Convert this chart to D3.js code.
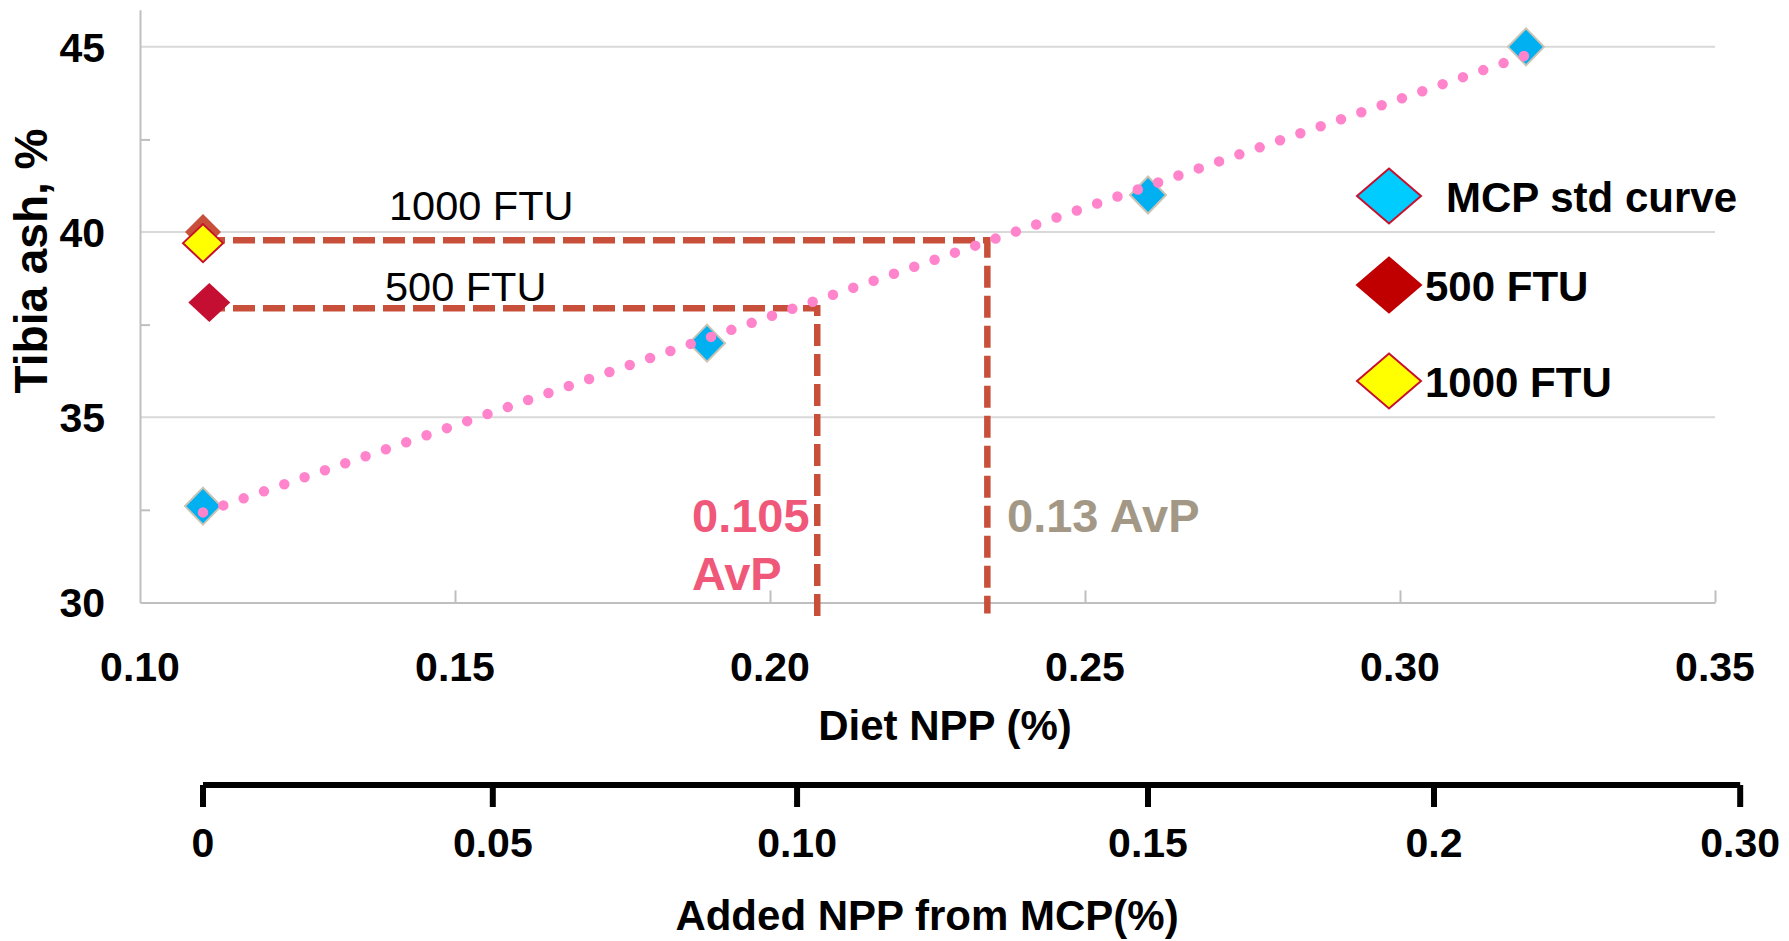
<!DOCTYPE html>
<html>
<head>
<meta charset="utf-8">
<script src="https://cdn.jsdelivr.net/npm/d3@7/dist/d3.min.js"></script>
<style>
  html, body { margin: 0; padding: 0; background: #ffffff; }
  svg { display: block; }
  text { font-family: "Liberation Sans", Arial, sans-serif; }
</style>
</head>
<body>
<svg id="chart" width="1789" height="941"></svg>
<script>
// ---------------- DATA ----------------
const mcpX = [0.11, 0.19, 0.26, 0.32];
const mcpY = [32.6, 37.0, 41.0, 45.0];

const ftu500X = [0.111];
const ftu500Y = [38.1];

const ftu1000X = [0.11];
const ftu1000Y = [39.7];

const hiddenX = [0.11];
const hiddenY = [40.0];

// linear trend line of the MCP standard curve (endpoints)
const trendX = [0.11, 0.32];
const trendY = [32.43, 44.77];

// read-off lines: level, diet NPP where it meets the curve, bottom of the drop line
const refLevel = [39.78, 37.94];
const refDiet = [0.2345, 0.2075];
const refBottom = [29.7, 29.55];

const xTicks = [0.10, 0.15, 0.20, 0.25, 0.30, 0.35];
const xTickLabels = ["0.10", "0.15", "0.20", "0.25", "0.30", "0.35"];
const yTicks = [30, 35, 40, 45];
const yMinorTicks = [32.5, 37.5, 42.5];

// secondary axis: added NPP from MCP and the diet NPP each tick sits at
const addedTicks = [0, 0.05, 0.10, 0.15, 0.2, 0.30];
const addedTickLabels = ["0", "0.05", "0.10", "0.15", "0.2", "0.30"];
const addedDietEquiv = [0.110, 0.156, 0.2043, 0.260, 0.3054, 0.354];

const legendNames = ["MCP std curve", "500 FTU", "1000 FTU"];
const annotations = [
  { lines: ["0.105", "AvP"], x: 0.2, y: 32.3, color: "#F0587A" },
  { lines: ["0.13 AvP"], x: 0.2325, y: 32.3, color: "#A39886" }
];

// ---------------- LAYOUT ----------------
const svg = d3.select("#chart");
const x = d3.scaleLinear().domain([0.10, 0.35]).range([140, 1715]);
const y = d3.scaleLinear().domain([30, 46]).range([602.4, 9.8]);
const xAdded = d3.scaleLinear().domain(addedTicks).range(addedDietEquiv.map(v => x(v)));
const axisY2 = 785;

const diamond = (hw, hh) => `M0,${-hh}L${hw},0L0,${hh}L${-hw},0Z`;

// gridlines
svg.append("g").selectAll("line").data(yTicks.slice(1)).join("line")
  .attr("x1", x(0.10)).attr("x2", x(0.35))
  .attr("y1", d => y(d)).attr("y2", d => y(d))
  .attr("stroke", "#D9D9D9").attr("stroke-width", 2);

// primary x axis
const xAxis = d3.axisBottom(x).tickValues(xTicks.slice(1)).tickSizeInner(-12).tickSizeOuter(0).tickFormat("");
const gx = svg.append("g").attr("transform", `translate(0,${y(30)})`).call(xAxis);
gx.select(".domain").attr("stroke", "#BFBFBF").attr("stroke-width", 2);
gx.selectAll(".tick line").attr("stroke", "#BFBFBF").attr("stroke-width", 2);

svg.append("g").selectAll("text").data(xTicks).join("text")
  .attr("x", d => x(d)).attr("y", 681)
  .attr("text-anchor", "middle")
  .attr("font-size", 41).attr("font-weight", "bold").attr("fill", "#000")
  .text((d, i) => xTickLabels[i]);

// primary y axis
const yAxis = d3.axisLeft(y).tickValues(yMinorTicks).tickSizeInner(-10).tickSizeOuter(0).tickFormat("");
const gy = svg.append("g").attr("transform", `translate(${x(0.10)},0)`).call(yAxis);
gy.select(".domain").attr("stroke", "#BFBFBF").attr("stroke-width", 2);
gy.selectAll(".tick line").attr("stroke", "#BFBFBF").attr("stroke-width", 2);

svg.append("g").selectAll("text").data(yTicks).join("text")
  .attr("x", 105).attr("y", d => y(d))
  .attr("dy", "0.36em")
  .attr("text-anchor", "end")
  .attr("font-size", 41).attr("font-weight", "bold").attr("fill", "#000")
  .text(d => d);

// axis titles
svg.append("text")
  .attr("transform", `translate(47,261) rotate(-90)`)
  .attr("text-anchor", "middle")
  .attr("font-size", 46).attr("font-weight", "bold").attr("fill", "#000")
  .text("Tibia ash, %");

svg.append("text")
  .attr("x", 945).attr("y", 740)
  .attr("text-anchor", "middle")
  .attr("font-size", 42).attr("font-weight", "bold").attr("fill", "#000")
  .text("Diet NPP (%)");

// secondary axis
svg.append("line")
  .attr("x1", xAdded(0)).attr("x2", xAdded(0.30))
  .attr("y1", axisY2).attr("y2", axisY2)
  .attr("stroke", "#000").attr("stroke-width", 6);
svg.append("g").selectAll("line").data(addedTicks).join("line")
  .attr("x1", d => xAdded(d)).attr("x2", d => xAdded(d))
  .attr("y1", axisY2).attr("y2", axisY2 + 22)
  .attr("stroke", "#000").attr("stroke-width", 6);
svg.append("g").selectAll("text").data(addedTicks).join("text")
  .attr("x", d => xAdded(d)).attr("y", 857)
  .attr("text-anchor", "middle")
  .attr("font-size", 41).attr("font-weight", "bold").attr("fill", "#000")
  .text((d, i) => addedTickLabels[i]);
svg.append("text")
  .attr("x", 927).attr("y", 930)
  .attr("text-anchor", "middle")
  .attr("font-size", 42).attr("font-weight", "bold").attr("fill", "#000")
  .text("Added NPP from MCP(%)");

// dashed read-off lines
const refColor = "#C8503A";
const refG = svg.append("g");
refLevel.forEach((lv, i) => {
  refG.append("path")
    .attr("d", d3.line()([[x(0.11), y(lv)], [x(refDiet[i]), y(lv)], [x(refDiet[i]), y(refBottom[i])]]))
    .attr("fill", "none")
    .attr("stroke", refColor).attr("stroke-width", 6.5)
    .attr("stroke-dasharray", "22 8");
});

// MCP std curve points
svg.append("g").selectAll("path").data(mcpX).join("path")
  .attr("transform", (d, i) => `translate(${x(d)},${y(mcpY[i])})`)
  .attr("d", diamond(18, 18.5))
  .attr("fill", "#00B0F0").attr("stroke", "#CBC4B4").attr("stroke-width", 2);

// trend line (dotted)
svg.append("path")
  .attr("d", d3.line().x((d, i) => x(d)).y((d, i) => y(trendY[i]))(trendX))
  .attr("fill", "none")
  .attr("stroke", "#FF84CC").attr("stroke-width", 10.5)
  .attr("stroke-linecap", "round")
  .attr("stroke-dasharray", "0 21.5");

// hidden marker behind 1000 FTU
svg.append("g").selectAll("path").data(hiddenX).join("path")
  .attr("transform", (d, i) => `translate(${x(d)},${y(hiddenY[i])})`)
  .attr("d", diamond(18, 18))
  .attr("fill", "#C8503A");

// 1000 FTU
svg.append("g").selectAll("path").data(ftu1000X).join("path")
  .attr("transform", (d, i) => `translate(${x(d)},${y(ftu1000Y[i])})`)
  .attr("d", diamond(20, 19))
  .attr("fill", "#FFFF00").attr("stroke", "#C8102E").attr("stroke-width", 2);

// 500 FTU
svg.append("g").selectAll("path").data(ftu500X).join("path")
  .attr("transform", (d, i) => `translate(${x(d)},${y(ftu500Y[i])})`)
  .attr("d", diamond(21, 19.5))
  .attr("fill", "#C50F32");

// line labels
svg.append("text").attr("x", 389).attr("y", 220)
  .attr("font-size", 41.5).attr("fill", "#000").text("1000 FTU");
svg.append("text").attr("x", 385).attr("y", 301)
  .attr("font-size", 41.5).attr("fill", "#000").text("500 FTU");

// AvP annotations
svg.append("g").selectAll("text").data(annotations).join("text")
  .attr("x", (d, i) => i === 0 ? 692 : 1007)
  .attr("y", 532)
  .attr("font-size", 47).attr("font-weight", "bold")
  .attr("fill", d => d.color)
  .each(function(d) {
    const t = d3.select(this);
    d.lines.forEach((ln, j) => {
      t.append("tspan").attr("x", t.attr("x")).attr("dy", j === 0 ? 0 : 57.5).text(ln);
    });
  });

// legend
const legFill = ["#00CCFF", "#C00000", "#FFFF00"];
const legStroke = ["#C8102E", "#C00000", "#C8102E"];
const legY = [196, 285, 381];
const legTextX = [1446, 1425, 1425];
const lg = svg.append("g");
legendNames.forEach((name, i) => {
  lg.append("path")
    .attr("transform", `translate(1389,${legY[i]})`)
    .attr("d", diamond(32, 27.5))
    .attr("fill", legFill[i]).attr("stroke", legStroke[i]).attr("stroke-width", 2);
  lg.append("text")
    .attr("x", legTextX[i]).attr("y", legY[i] + 15.5)
    .attr("font-size", 42).attr("font-weight", "bold").attr("fill", "#000")
    .text(name);
});
</script>
</body>
</html>
